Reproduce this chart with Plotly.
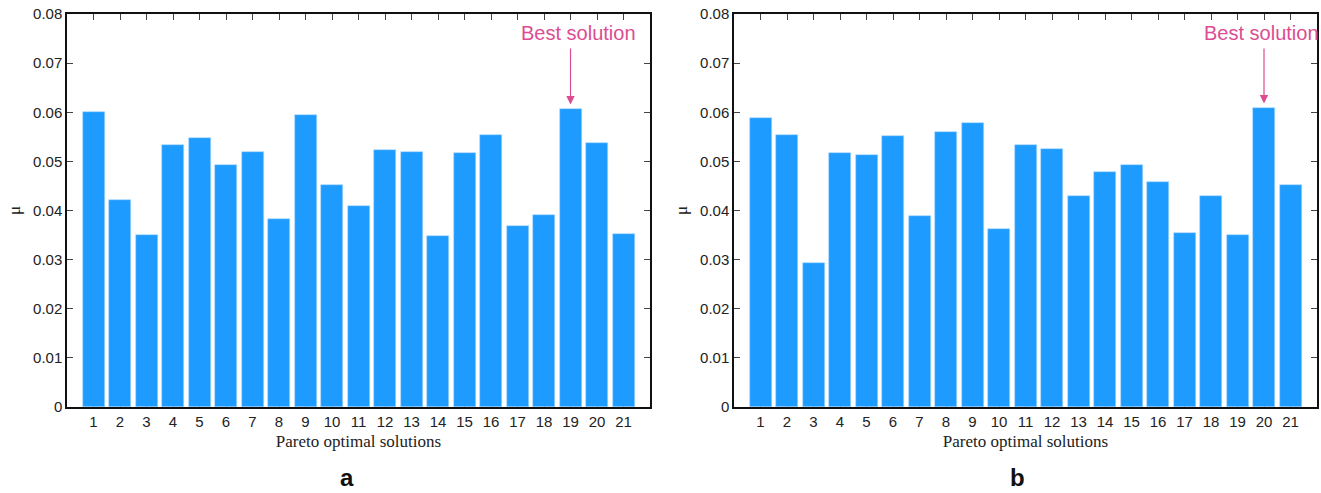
import plotly.graph_objects as go

solutions = list(range(1, 22))
mu_a = [0.0600, 0.0422, 0.0350, 0.0533, 0.0547, 0.0492, 0.0520, 0.0383, 0.0595, 0.0452,
        0.0410, 0.0524, 0.0519, 0.0348, 0.0517, 0.0554, 0.0369, 0.0390, 0.0607, 0.0537, 0.0352]
mu_b = [0.0588, 0.0553, 0.0294, 0.0517, 0.0512, 0.0551, 0.0389, 0.0560, 0.0579, 0.0363,
        0.0533, 0.0526, 0.0430, 0.0478, 0.0493, 0.0458, 0.0355, 0.0429, 0.0350, 0.0609, 0.0452]
best_a = 19
best_b = 20
y_ticks = [0, 0.01, 0.02, 0.03, 0.04, 0.05, 0.06, 0.07, 0.08]
y_ticklabels = ["0", "0.01", "0.02", "0.03", "0.04", "0.05", "0.06", "0.07", "0.08"]
panel_labels = ["a", "b"]

BAR = "#1e9bff"
PINK = "#dc4c91"
W, H = 1321, 493

fig = go.Figure()
fig.add_trace(go.Bar(x=solutions, y=mu_a, marker=dict(color=BAR, line=dict(color="#a9d6ff", width=0.6)),
                     width=0.83, xaxis="x", yaxis="y", showlegend=False))
fig.add_trace(go.Bar(x=solutions, y=mu_b, marker=dict(color=BAR, line=dict(color="#a9d6ff", width=0.6)),
                     width=0.83, xaxis="x2", yaxis="y2", showlegend=False))

ydom = [1 - 407 / H, 1 - 14 / H]
xdom_a = [67 / W, 650 / W]
xdom_b = [734 / W, 1317 / W]

tickfont = dict(family="Liberation Sans, Arial, sans-serif", size=15, color="#222")
titlefont = dict(family="Liberation Serif, Times New Roman, serif", size=17, color="#222")

def xaxis(dom, anchor):
    return dict(domain=dom, anchor=anchor, range=[0, 22], tickmode="array", tickvals=solutions,
                ticktext=[str(s) for s in solutions], ticks="inside", ticklen=6, tickcolor="#444",
                mirror="ticks", showline=True, linecolor="#111", linewidth=1.5, showgrid=False,
                zeroline=False, tickfont=tickfont, layer="below traces", automargin=False,
                title=dict(text="Pareto optimal solutions", font=titlefont, standoff=6))

def yaxis(dom, anchor):
    return dict(domain=dom, anchor=anchor, range=[0, 0.08], tickmode="array", tickvals=y_ticks,
                ticktext=y_ticklabels, ticks="inside", ticklen=6, tickcolor="#444",
                mirror="ticks", showline=True, linecolor="#111", linewidth=1.5, showgrid=False,
                zeroline=False, tickfont=tickfont, automargin=False,
                title=dict(text="μ", font=titlefont, standoff=8))

annotations = []
for xr, yr, best, vals, cx in [("x", "y", best_a, mu_a, 0.3), ("x2", "y2", best_b, mu_b, -0.1)]:
    top = vals[best - 1]
    annotations.append(dict(x=best + cx, y=0.0761, xref=xr, yref=yr, text="Best solution",
                            showarrow=False, font=dict(family="Liberation Sans, Arial, sans-serif",
                                                       size=20, color=PINK)))
    annotations.append(dict(x=best, y=top + 0.0009, xref=xr, yref=yr, text="", showarrow=True,
                            ax=best, ay=0.0733, axref=xr, ayref=yr, arrowhead=2, arrowsize=1.4,
                            arrowwidth=1.2, arrowcolor=PINK, standoff=0))

for lbl, xc in zip(panel_labels, [347 / W, 1017 / W]):
    annotations.append(dict(x=xc, y=1 - 477 / H, xref="paper", yref="paper", text=f"<b>{lbl}</b>",
                            xanchor="center", yanchor="middle", borderpad=0,
                            showarrow=False, font=dict(family="Liberation Sans, Arial, sans-serif",
                                                       size=24, color="#111")))

fig.update_layout(
    width=W, height=H, margin=dict(l=0, r=0, t=0, b=0),
    plot_bgcolor="white", paper_bgcolor="white", bargap=0,
    xaxis=xaxis(xdom_a, "y"), yaxis=yaxis(ydom, "x"),
    xaxis2=xaxis(xdom_b, "y2"), yaxis2=yaxis(ydom, "x2"),
    annotations=annotations,
)
fig.write_html("out.html", config={"displayModeBar": False},
               post_script="document.body.style.margin='0';document.body.style.overflow='hidden';")
